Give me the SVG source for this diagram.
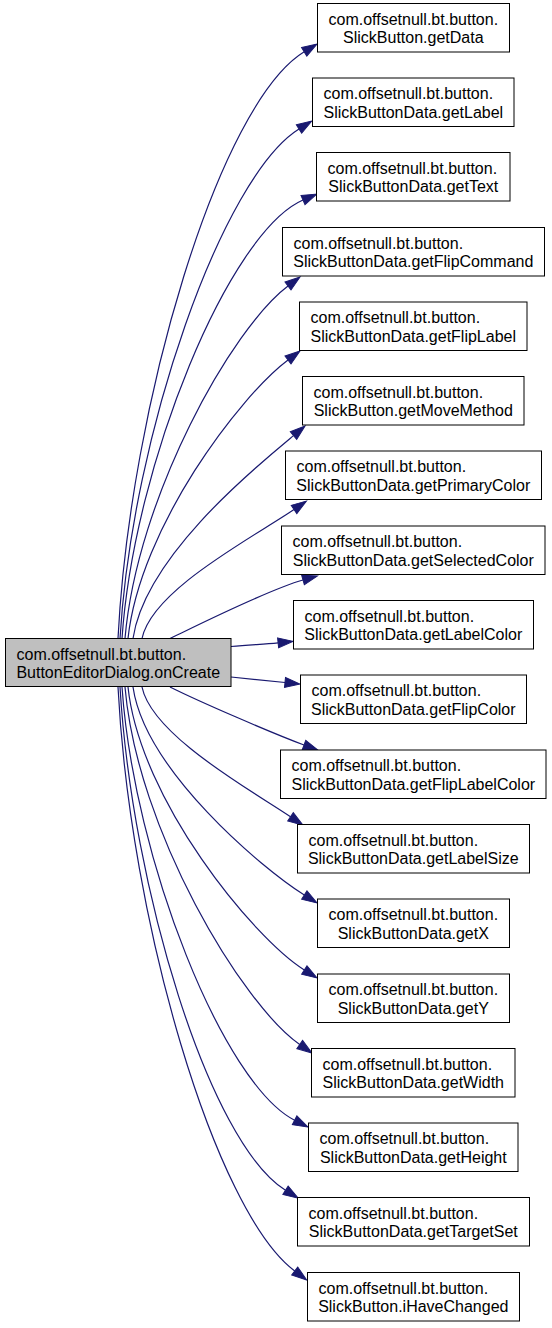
<svg xmlns="http://www.w3.org/2000/svg" width="552" height="1328" viewBox="0 0 552 1328">
<style>
.n rect{fill:#fff;stroke:#000;stroke-width:1}
.src rect{fill:#bfbfbf;stroke:#000;stroke-width:1}
text{font-family:"Liberation Sans",Arial,sans-serif;font-size:16px;fill:#000}
.c{text-anchor:middle}
.e path{fill:none;stroke:#191970;stroke-width:1.2;marker-end:url(#ah)}
</style>
<defs>
<marker id="ah" markerUnits="userSpaceOnUse" markerWidth="15" markerHeight="10" refX="0" refY="5" orient="auto" overflow="visible">
<path d="M0,0 L15,5 L0,10 z" fill="#191970" stroke="#191970" stroke-width="1"/>
</marker>
</defs>
<rect width="552" height="1328" fill="#fff"/>
<g class="e" id="edges">
<path d="M118,638.5 C130,404 219,104 304.2,51.8"/>
<path d="M120,638.5 C132,434 222.5,176.7 299,129"/>
<path d="M122,638.5 C134,463 229.4,232 303,200"/>
<path d="M125,638.5 C137,497 232,328 288,286"/>
<path d="M128,638.5 C140,527 240,396 288,360"/>
<path d="M133,638.5 C145,557 255,467.6 293.5,435.6"/>
<path d="M142,638.5 C152,590 252,538 294,509.5"/>
<path d="M170,638.5 C200,624 269,589.5 303,580"/>
<path d="M231,646.5 C250,644.5 262,644.6 278.1,642.9"/>
<path d="M231,677 C250,679 268,680.8 285,682.5"/>
<path d="M170,687 C200,702 271.5,732.8 304,745"/>
<path d="M142,687 C152,735 249,789 290.5,816.8"/>
<path d="M133,687 C145,770 262,868.5 304.3,895"/>
<path d="M128,687 C140,800 253.3,938 304.3,970"/>
<path d="M125,687 C137,830 242.3,1004.6 299.7,1044.5"/>
<path d="M122,687 C134,860 223.4,1084 294.6,1120.2"/>
<path d="M120,687 C132,888 209,1142.6 285.5,1190.3"/>
<path d="M118,687 C130,921 214.7,1211 294.7,1271"/>
</g>
<g id="n_src" class="src"><rect x="5.5" y="638.5" width="225.5" height="48"/><text x="16.5" y="659.5">com.offsetnull.bt.button.</text><text class="c" x="118.25" y="678">ButtonEditorDialog.onCreate</text></g>
<g id="n0" class="n"><rect x="317.5" y="3.5" width="192" height="48.5"/><text x="328.5" y="24.5">com.offsetnull.bt.button.</text><text class="c" x="413.3" y="43">SlickButton.getData</text></g>
<g id="n1" class="n"><rect x="312.5" y="78" width="201.5" height="48.5"/><text x="323.5" y="99">com.offsetnull.bt.button.</text><text class="c" x="413.3" y="117.5">SlickButtonData.getLabel</text></g>
<g id="n2" class="n"><rect x="316.5" y="152.5" width="193.5" height="48.5"/><text x="327.5" y="173.5">com.offsetnull.bt.button.</text><text class="c" x="413.3" y="192">SlickButtonData.getText</text></g>
<g id="n3" class="n"><rect x="282.5" y="227.5" width="262" height="48.5"/><text x="293.5" y="248.5">com.offsetnull.bt.button.</text><text class="c" x="413.3" y="267">SlickButtonData.getFlipCommand</text></g>
<g id="n4" class="n"><rect x="299.5" y="302" width="227.5" height="48.5"/><text x="310.5" y="323">com.offsetnull.bt.button.</text><text class="c" x="413.3" y="341.5">SlickButtonData.getFlipLabel</text></g>
<g id="n5" class="n"><rect x="302.5" y="376.5" width="221.5" height="48.5"/><text x="313.5" y="397.5">com.offsetnull.bt.button.</text><text class="c" x="413.3" y="416">SlickButton.getMoveMethod</text></g>
<g id="n6" class="n"><rect x="285.5" y="451" width="256" height="48.5"/><text x="296.5" y="472">com.offsetnull.bt.button.</text><text class="c" x="413.3" y="490.5">SlickButtonData.getPrimaryColor</text></g>
<g id="n7" class="n"><rect x="281.5" y="526" width="263.5" height="48.5"/><text x="292.5" y="547">com.offsetnull.bt.button.</text><text class="c" x="413.3" y="565.5">SlickButtonData.getSelectedColor</text></g>
<g id="n8" class="n"><rect x="293.5" y="600.5" width="240" height="48.5"/><text x="304.5" y="621.5">com.offsetnull.bt.button.</text><text class="c" x="413.3" y="640">SlickButtonData.getLabelColor</text></g>
<g id="n9" class="n"><rect x="300.5" y="675" width="226" height="48.5"/><text x="311.5" y="696">com.offsetnull.bt.button.</text><text class="c" x="413.3" y="714.5">SlickButtonData.getFlipColor</text></g>
<g id="n10" class="n"><rect x="280.5" y="750" width="265.5" height="48.5"/><text x="291.5" y="771">com.offsetnull.bt.button.</text><text class="c" x="413.3" y="789.5">SlickButtonData.getFlipLabelColor</text></g>
<g id="n11" class="n"><rect x="297.5" y="824.5" width="232" height="48.5"/><text x="308.5" y="845.5">com.offsetnull.bt.button.</text><text class="c" x="413.3" y="864">SlickButtonData.getLabelSize</text></g>
<g id="n12" class="n"><rect x="317.5" y="899" width="192" height="48.5"/><text x="328.5" y="920">com.offsetnull.bt.button.</text><text class="c" x="413.3" y="938.5">SlickButtonData.getX</text></g>
<g id="n13" class="n"><rect x="317.5" y="974" width="192" height="48.5"/><text x="328.5" y="995">com.offsetnull.bt.button.</text><text class="c" x="413.3" y="1013.5">SlickButtonData.getY</text></g>
<g id="n14" class="n"><rect x="311.5" y="1048.5" width="203.5" height="48.5"/><text x="322.5" y="1069.5">com.offsetnull.bt.button.</text><text class="c" x="413.3" y="1088">SlickButtonData.getWidth</text></g>
<g id="n15" class="n"><rect x="308.5" y="1123" width="209.5" height="48.5"/><text x="319.5" y="1144">com.offsetnull.bt.button.</text><text class="c" x="413.3" y="1162.5">SlickButtonData.getHeight</text></g>
<g id="n16" class="n"><rect x="297.5" y="1197.5" width="232" height="48.5"/><text x="308.5" y="1218.5">com.offsetnull.bt.button.</text><text class="c" x="413.3" y="1237">SlickButtonData.getTargetSet</text></g>
<g id="n17" class="n"><rect x="307.5" y="1272.5" width="212" height="48.5"/><text x="318.5" y="1293.5">com.offsetnull.bt.button.</text><text class="c" x="413.3" y="1312">SlickButton.iHaveChanged</text></g>
</svg>
